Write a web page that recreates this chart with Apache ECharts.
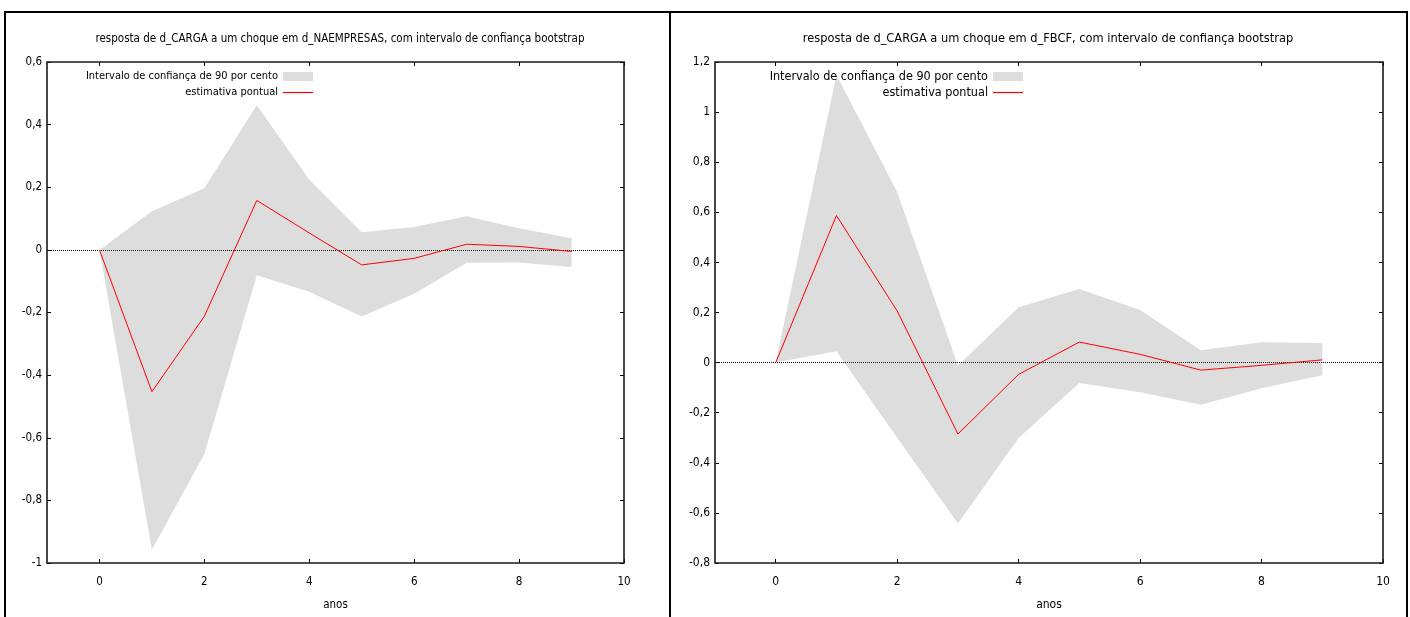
<!DOCTYPE html>
<html><head><meta charset="utf-8">
<script src="https://cdn.jsdelivr.net/npm/echarts@6/dist/echarts.min.js"></script>
<style>html,body{margin:0;padding:0;background:#fff}#c{width:1410px;height:617px}</style>
</head><body><div id="c"></div>
<script>
const anos = [0,1,2,3,4,5,6,7,8,9];
const naeLine  = [0,-0.453,-0.212,0.158,0.054,-0.048,-0.027,0.018,0.011,-0.005];
const naeLower = [0,-0.958,-0.652,-0.081,-0.134,-0.213,-0.140,-0.041,-0.040,-0.055];
const naeUpper = [0,0.123,0.197,0.462,0.224,0.056,0.073,0.107,0.069,0.037];
const fbcfLine  = [0,0.587,0.206,-0.285,-0.047,0.082,0.033,-0.030,-0.011,0.011];
const fbcfLower = [0,0.045,-0.300,-0.642,-0.301,-0.081,-0.118,-0.168,-0.102,-0.050];
const fbcfUpper = [0,1.148,0.681,-0.012,0.221,0.294,0.210,0.049,0.081,0.078];
const xTicks = [0,2,4,6,8,10];
const yTicksL = [-1,-0.8,-0.6,-0.4,-0.2,0,0.2,0.4,0.6];
const yTicksR = [-0.8,-0.6,-0.4,-0.2,0,0.2,0.4,0.6,0.8,1,1.2];
const titles = ['resposta de d_CARGA a um choque em d_NAEMPRESAS, com intervalo de confiança bootstrap',
                'resposta de d_CARGA a um choque em d_FBCF, com intervalo de confiança bootstrap'];
const bandName = 'Intervalo de confiança de 90 por cento';
const lineName = 'estimativa pontual';
const xName = 'anos';

const FONT = '"DejaVu Sans Condensed","DejaVu Sans",sans-serif';
const titleFS = [11.5, 12.7];
const legendFS = [11, 12.5];
const tickFS = [11.5, 12];
const fmt = v => String(Math.round(v*10)/10).replace('.', ',');
const pairs = (ys) => anos.map((x,i)=>[x, ys[i]]);

const grids = [
  {left:47, right:786, top:62, bottom:54},
  {left:715, right:27, top:62, bottom:54}
];
const yT = [yTicksL, yTicksR];
const sets = [[naeLine,naeLower,naeUpper],[fbcfLine,fbcfLower,fbcfUpper]];
const centers = [340, 1048];
const legRight = [1097, 387];

const option = {animation:false, title:[], legend:[], grid:[], xAxis:[], yAxis:[], series:[],
  graphic:[
    {type:'rect', shape:{x:5,y:12,width:665,height:620}, style:{fill:'none',stroke:'#000',lineWidth:2}, z:100},
    {type:'rect', shape:{x:670,y:12,width:737,height:620}, style:{fill:'none',stroke:'#000',lineWidth:2}, z:100}
  ]};

for (let g=0; g<2; g++) {
  const gr = grids[g];
  option.grid.push(Object.assign({show:true, outerBoundsMode:'none', containLabel:false,
    borderColor:'#1a1a1a', borderWidth:1.6, backgroundColor:'transparent', z:5}, gr));
  option.title.push({text:titles[g], left:centers[g], top:g===0?33:32, padding:0, textAlign:'center',
    textStyle:{fontFamily:FONT, fontSize:titleFS[g], fontWeight:'normal', color:'#000'}});
  const yt = yT[g];
  const tickStyle = {show:true, inside:true, length:4, lineStyle:{color:'#000', width:1}};
  option.xAxis.push({type:'value', gridIndex:g, min:-1, max:10, position:'bottom',
    name:xName, nameLocation:'middle', nameGap:36, nameTextStyle:{fontFamily:FONT,fontSize:tickFS[g],color:'#000'},
    axisLine:{show:false, onZero:false}, splitLine:{show:false},
    axisTick:Object.assign({customValues:xTicks}, tickStyle),
    axisLabel:{customValues:xTicks, fontFamily:FONT, fontSize:tickFS[g], color:'#000', margin:13}});
  option.xAxis.push({type:'value', gridIndex:g, min:-1, max:10, position:'top',
    axisLine:{show:false, onZero:false}, splitLine:{show:false},
    axisTick:Object.assign({customValues:xTicks}, tickStyle), axisLabel:{show:false}});
  option.yAxis.push({type:'value', gridIndex:g, min:yt[0], max:yt[yt.length-1], position:'left',
    axisLine:{show:false, onZero:false}, splitLine:{show:false},
    axisTick:Object.assign({customValues:yt}, tickStyle),
    axisLabel:{customValues:yt, formatter:fmt, fontFamily:FONT, fontSize:tickFS[g], color:'#000', margin:5}});
  option.yAxis.push({type:'value', gridIndex:g, min:yt[0], max:yt[yt.length-1], position:'right',
    axisLine:{show:false, onZero:false}, splitLine:{show:false},
    axisTick:Object.assign({customValues:yt}, tickStyle), axisLabel:{show:false}});
  const [ln, lo, up] = sets[g];
  const xi = g*2, yi = g*2;
  option.series.push({type:'custom', name:bandName, xAxisIndex:xi, yAxisIndex:yi,
    data:[[0, 0]], silent:true, z:1, itemStyle:{color:'#dddddd'},
    renderItem:(params, api) => {
      const pts = [];
      for (let i=0;i<anos.length;i++) pts.push(api.coord([anos[i], up[i]]));
      for (let i=anos.length-1;i>=0;i--) pts.push(api.coord([anos[i], lo[i]]));
      return {type:'polygon', shape:{points:pts}, style:{fill:'#dddddd', stroke:'none'}};
    }});
  option.series.push({type:'line', name:lineName, xAxisIndex:xi, yAxisIndex:yi,
    data:pairs(ln), symbol:'none', lineStyle:{color:'#ff0000', width:1}, itemStyle:{color:'#ff0000'}, z:3,
    markLine:{silent:true, symbol:'none', label:{show:false},
      lineStyle:{color:'#000', type:[1,1], width:1}, data:[{yAxis:0}], z:2}});
  option.legend.push({data:[{name:bandName, icon:'rect', itemStyle:{color:'#dddddd'}}], align:'right', orient:'vertical',
    right:legRight[g], top:g===0?71:70, padding:0, itemWidth:30, itemHeight:9, itemGap:4, selectedMode:false,
    textStyle:{fontFamily:FONT, fontSize:legendFS[g], color:'#000'}});
  option.legend.push({data:[{name:lineName, icon:'rect', itemStyle:{color:'#ff0000'}}], align:'right', orient:'vertical',
    right:legRight[g], top:g===0?87:86, padding:0, itemWidth:30, itemHeight:1.2, itemGap:4, selectedMode:false,
    textStyle:{fontFamily:FONT, fontSize:legendFS[g], color:'#000'}});
}
const chart = echarts.init(document.getElementById('c'), null, {renderer:'canvas'});
chart.setOption(option);
</script></body></html>
